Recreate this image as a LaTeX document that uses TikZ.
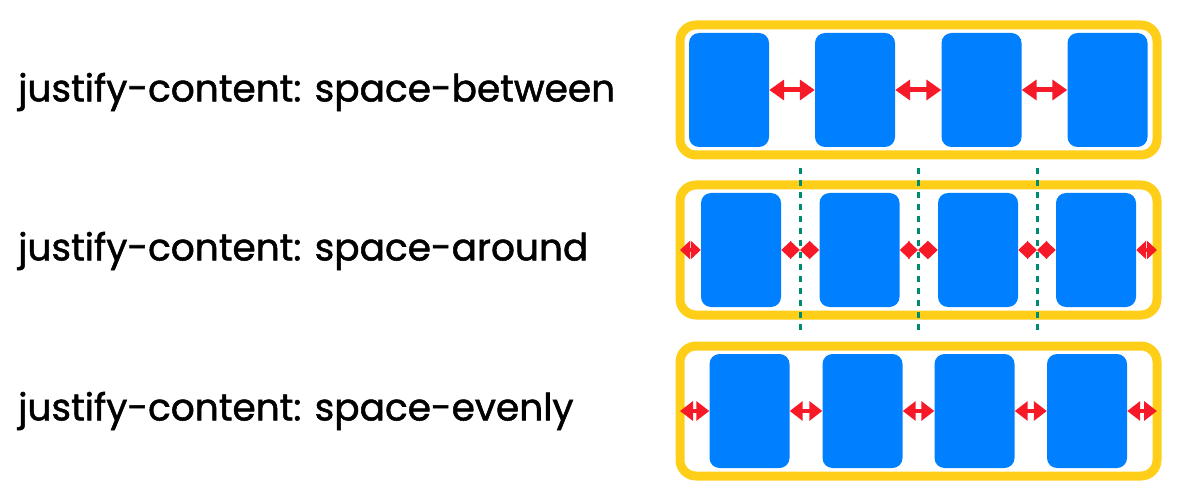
\documentclass[tikz,border=0pt]{standalone}
\usepackage{fontspec}
\setmainfont{Poppins}
\newfontfamily\labelfont[FakeBold=1.4]{Poppins}
\usetikzlibrary{arrows.meta}
\definecolor{flexyellow}{RGB}{255,206,24}
\definecolor{flexblue}{RGB}{0,128,255}
\definecolor{gapred}{RGB}{246,26,40}
\definecolor{guidegreen}{RGB}{0,140,115}
\tikzset{
  container/.style={draw=flexyellow,line width=9pt,rounded corners=16pt,
    minimum width=477pt,minimum height=130pt,inner sep=0pt},
  item/.style={fill=flexblue,rounded corners=10pt,minimum width=80pt,
    minimum height=114pt,inner sep=0pt},
  rowlabel/.style={anchor=west,inner sep=0pt,font=\labelfont\fontsize{37.5}{44}\selectfont},
  biggap/.style={gapred,line width=5pt,{Triangle[length=15pt,width=20pt]}-{Triangle[length=15pt,width=20pt]}},
  evengap/.style={gapred,line width=4pt,{Triangle[length=13pt,width=19pt]}-{Triangle[length=13pt,width=19pt]}},
  smallgap/.style={gapred,line width=4pt,{Triangle[length=10pt,width=18pt]}-{Triangle[length=10pt,width=18pt]}},
  guide/.style={guidegreen,line width=3pt,dash pattern=on 6pt off 6pt}
}
\begin{document}
\begin{tikzpicture}[x=1pt,y=-1pt]
  \useasboundingbox (0,0) rectangle (1183,497);
  \node[rowlabel] (between) at (18,92) {justify-content: space-between};
  \node[rowlabel] (around) at (18,251) {justify-content: space-around};
  \node[rowlabel] (evenly) at (18,411) {justify-content: space-evenly};
  \node[container] (c1) at (918.5,90) {};
  \node[container] (c2) at (918.5,250) {};
  \node[container] (c3) at (918.5,411) {};
  \foreach \x [count=\i] in {729,855,981.5,1107.5}
    \node[item] (a\i) at (\x,90) {};
  \foreach \x [count=\i] in {741,859.5,978,1096}
    \node[item] (b\i) at (\x,250) {};
  \foreach \x [count=\i] in {749.5,862.5,974.5,1087}
    \node[item] (e\i) at (\x,411) {};
  \foreach \i/\j in {1/2,2/3,3/4}
    \draw[biggap] (a\i.east) -- (a\j.west);
  \foreach \x [count=\i] in {800,918,1037} {
    \draw[guide] (\x,168) -- (\x,335);
    \coordinate (g\i) at (\x,250);
  }
  \coordinate (c2l) at ([xshift=4.5pt]c2.west);
  \coordinate (c2r) at ([xshift=-4.5pt]c2.east);
  \draw[smallgap] (c2l) -- (b1.west);
  \foreach \i/\j in {1/2,2/3,3/4} {
    \draw[smallgap] (b\i.east) -- (g\i);
    \draw[smallgap] (g\i) -- (b\j.west);
  }
  \draw[smallgap] (b4.east) -- (c2r);
  \coordinate (c3l) at ([xshift=4.5pt]c3.west);
  \coordinate (c3r) at ([xshift=-4.5pt]c3.east);
  \draw[evengap] (c3l) -- (e1.west);
  \foreach \i/\j in {1/2,2/3,3/4}
    \draw[evengap] (e\i.east) -- (e\j.west);
  \draw[evengap] (e4.east) -- (c3r);
\end{tikzpicture}
\end{document}
